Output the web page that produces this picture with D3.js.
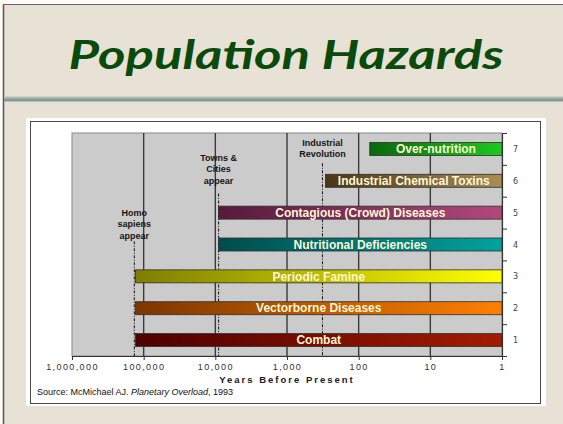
<!DOCTYPE html>
<html>
<head>
<meta charset="utf-8">
<script src="https://cdn.jsdelivr.net/npm/d3@7"></script>
<style>
  html, body { margin: 0; padding: 0; background: #fff; }
  svg { display: block; }
</style>
</head>
<body>
<div id="chart"></div>
<script>
// chart values
const hazards = ['Combat', 'Vectorborne Diseases', 'Periodic Famine', 'Nutritional Deficiencies',
    'Contagious (Crowd) Diseases', 'Industrial Chemical Toxins', 'Over-nutrition']
const levels = [1, 2, 3, 4, 5, 6, 7]
const startYears = [130000, 130000, 130000, 9000, 9000, 290, 70]
const endYears = [1, 1, 1, 1, 1, 1, 1]
const darkColors = ['#4e0000', '#7c3600', '#7e7e00', '#004c4c', '#561a3c', '#4a3616', '#0a680a']
const lightColors = ['#a21c00', '#ff8000', '#ffff00', '#00a29e', '#b2487c', '#aa8c56', '#1ec81e']

const events = [['Homo', 'sapiens', 'appear'], ['Towns &', 'Cities', 'appear'], ['Industrial', 'Revolution']]
const eventYears = [135000, 9000, 320]

const xTicks = [1000000, 100000, 10000, 1000, 100, 10, 1]
const xTickLabels = ['1,000,000', '100,000', '10,000', '1,000', '100', '10', '1']

const W = 563, H = 424
const plot = { left: 72, right: 502, top: 133, bottom: 356 }

let svg = d3.select('#chart').append('svg')
    .attr('width', W)
    .attr('height', H)
    .attr('viewBox', `0 0 ${W} ${H}`)

let defs = svg.append('defs')

/** Slide background, title and separator bar */
function drawSlide() {

    svg.append('rect').attr('width', W).attr('height', H).attr('fill', '#fbfaf8')
    svg.append('rect')
        .attr('x', 3).attr('y', 4)
        .attr('width', W).attr('height', H)
        .attr('fill', '#e8e1d6')

    svg.append('line').attr('x1', 3.5).attr('x2', 3.5).attr('y1', 4).attr('y2', H)
        .attr('stroke', '#5a5650').attr('stroke-width', 1.5)
    svg.append('line').attr('x1', 3).attr('x2', W).attr('y1', 4.5).attr('y2', 4.5)
        .attr('stroke', '#6a665f').attr('stroke-width', 1.2)

    svg.append('text')
        .attr('x', 286)
        .attr('y', 69)
        .attr('text-anchor', 'middle')
        .attr('font-family', 'Lato, "DejaVu Sans", sans-serif')
        .attr('font-style', 'italic')
        .attr('font-weight', 'bold')
        .attr('font-size', 40)
        .attr('textLength', 435)
        .attr('lengthAdjust', 'spacingAndGlyphs')
        .attr('fill', '#0a4a0a')
        .text('Population Hazards')

    let sep = defs.append('linearGradient')
        .attr('id', 'sep-gradient')
        .attr('x1', 0).attr('x2', 0).attr('y1', 0).attr('y2', 1)
    sep.selectAll('stop')
        .data([
            { offset: '0%', color: '#d2dbd5' },
            { offset: '35%', color: '#a3b2a9' },
            { offset: '70%', color: '#7f9088' },
            { offset: '100%', color: '#c4cec7' }
        ])
        .enter().append('stop')
        .attr('offset', d => d.offset)
        .attr('stop-color', d => d.color)

    svg.append('rect')
        .attr('x', 4).attr('y', 96)
        .attr('width', W - 4).attr('height', 6)
        .attr('fill', 'url(#sep-gradient)')

    // white panel + chart box
    svg.append('rect')
        .attr('x', 26).attr('y', 118)
        .attr('width', 520).attr('height', 288)
        .attr('fill', '#ffffff')
    svg.append('rect')
        .attr('x', 30.5).attr('y', 121.5)
        .attr('width', 510).attr('height', 282)
        .attr('fill', '#ffffff')
        .attr('stroke', '#4a4a4a')
        .attr('stroke-width', 1)
}

/** Gradients for each bar, dark on the left and bright on the right */
function appendGradients() {
    hazards.forEach((h, i) => {
        defs.append('linearGradient')
            .attr('id', 'bar-gradient-' + i)
            .attr('x1', 0).attr('x2', 1).attr('y1', 0).attr('y2', 0)
            .selectAll('stop')
            .data([
                { offset: '0%', color: darkColors[i] },
                { offset: '100%', color: lightColors[i] }
            ])
            .enter().append('stop')
            .attr('offset', d => d.offset)
            .attr('stop-color', d => d.color)
    })
}

drawSlide()
appendGradients()

let x = d3.scaleLog().domain([1000000, 1]).range([plot.left, plot.right])
let y = d3.scaleLinear().domain([0.5, 7.5]).range([plot.bottom, plot.top])
let barH = 13

// plot background
svg.append('rect')
    .attr('x', plot.left).attr('y', plot.top)
    .attr('width', plot.right - plot.left).attr('height', plot.bottom - plot.top)
    .attr('fill', '#cbcbcb')
    .attr('stroke', '#8a8a8a')
    .attr('stroke-width', 1)

// gridlines
svg.append('g')
    .attr('class', 'grid')
    .selectAll('line')
    .data(xTicks.slice(1, -1))
    .enter()
    .append('line')
    .attr('x1', d => x(d)).attr('x2', d => x(d))
    .attr('y1', plot.top).attr('y2', plot.bottom)
    .attr('stroke', '#3a3a3a')
    .attr('stroke-width', 1.4)

// event markers (dash-dot lines + labels)
let labelTop = [5.0, 6.72, 7.2]
let lineTop = [4.1, 5.6, 6.55]
let ev = svg.append('g').attr('class', 'events')
events.forEach((lines, i) => {
    ev.append('line')
        .attr('x1', x(eventYears[i])).attr('x2', x(eventYears[i]))
        .attr('y1', y(lineTop[i])).attr('y2', plot.bottom)
        .attr('stroke', '#111')
        .attr('stroke-width', 1)
        .attr('stroke-dasharray', '3,1.5,1,1.5')

    ev.append('text')
        .attr('x', x(eventYears[i]))
        .attr('y', y(labelTop[i]))
        .attr('text-anchor', 'middle')
        .attr('font-family', '"Liberation Sans", Arial, sans-serif')
        .attr('font-weight', 'bold')
        .attr('font-size', 9)
        .attr('fill', '#151515')
        .selectAll('tspan')
        .data(lines)
        .enter()
        .append('tspan')
        .attr('x', x(eventYears[i]))
        .attr('dy', (d, j) => j === 0 ? '0.35em' : 11.5)
        .text(d => d)
})

// bars
svg.append('g')
    .attr('class', 'bar')
    .selectAll('rect')
    .data(hazards)
    .enter()
    .append('rect')
    .attr('x', (d, i) => x(startYears[i]))
    .attr('y', (d, i) => y(levels[i]) - barH / 2)
    .attr('width', (d, i) => x(endYears[i]) - x(startYears[i]))
    .attr('height', barH)
    .attr('fill', (d, i) => 'url(#bar-gradient-' + i + ')')
    .attr('stroke', '#2e2e2e')
    .attr('stroke-width', 0.8)

svg.append('g')
    .attr('class', 'hlabel')
    .selectAll('text')
    .data(hazards)
    .enter()
    .append('text')
    .attr('x', (d, i) => (x(startYears[i]) + x(endYears[i])) / 2)
    .attr('y', (d, i) => y(levels[i]))
    .attr('dy', '0.35em')
    .attr('text-anchor', 'middle')
    .attr('font-family', '"Liberation Sans", Arial, sans-serif')
    .attr('font-weight', 'bold')
    .attr('font-size', 12)
    .attr('fill', '#fdf7d6')
    .text(d => d)

// x axis
let xAxis = svg.append('g')
    .attr('class', 'x-axis')
    .attr('transform', 'translate(0,' + plot.bottom + ')')
    .call(d3.axisBottom(x).tickValues(xTicks).tickFormat((d, i) => xTickLabels[i]).tickSize(4).tickSizeOuter(0).tickPadding(4))
xAxis.select('.domain').attr('stroke', '#333').attr('stroke-width', 1.2)
xAxis.selectAll('.tick line').attr('stroke', '#333')
xAxis.selectAll('text')
    .attr('font-family', '"Liberation Sans", Arial, sans-serif')
    .attr('font-size', 9)
    .attr('letter-spacing', 1.4)
    .attr('fill', '#333')

svg.append('text')
    .attr('x', (plot.left + plot.right) / 2)
    .attr('y', 383)
    .attr('text-anchor', 'middle')
    .attr('font-family', '"Liberation Sans", Arial, sans-serif')
    .attr('font-weight', 'bold')
    .attr('font-size', 9.5)
    .attr('letter-spacing', 2)
    .attr('fill', '#1a1a1a')
    .text('Years Before Present')

// y axis on the right: tick marks between categories, labels at centers
let yEdges = d3.range(0.5, 8, 1)
let yMarks = svg.append('g')
    .attr('class', 'y-axis')
    .attr('transform', 'translate(' + plot.right + ',0)')
    .call(d3.axisRight(y).tickValues(yEdges).tickFormat('').tickSize(5).tickSizeOuter(0))
yMarks.select('.domain').attr('stroke', '#333').attr('stroke-width', 1.2)
yMarks.selectAll('.tick line').attr('stroke', '#333')

let yLabels = svg.append('g')
    .attr('transform', 'translate(' + plot.right + ',0)')
    .call(d3.axisRight(y).tickValues(levels).tickFormat(d3.format('d')).tickSize(0).tickPadding(11))
yLabels.select('.domain').remove()
yLabels.selectAll('text')
    .attr('font-family', '"DejaVu Sans", Verdana, sans-serif')
    .attr('font-size', 8)
    .attr('fill', '#444')

// source
let src = svg.append('text')
    .attr('x', 37)
    .attr('y', 395)
    .attr('font-family', '"Liberation Sans", Arial, sans-serif')
    .attr('font-size', 9)
    .attr('fill', '#111')
src.append('tspan').text('Source: McMichael AJ. ')
src.append('tspan').attr('font-style', 'italic').text('Planetary Overload')
src.append('tspan').text(', 1993')
</script>
</body>
</html>
